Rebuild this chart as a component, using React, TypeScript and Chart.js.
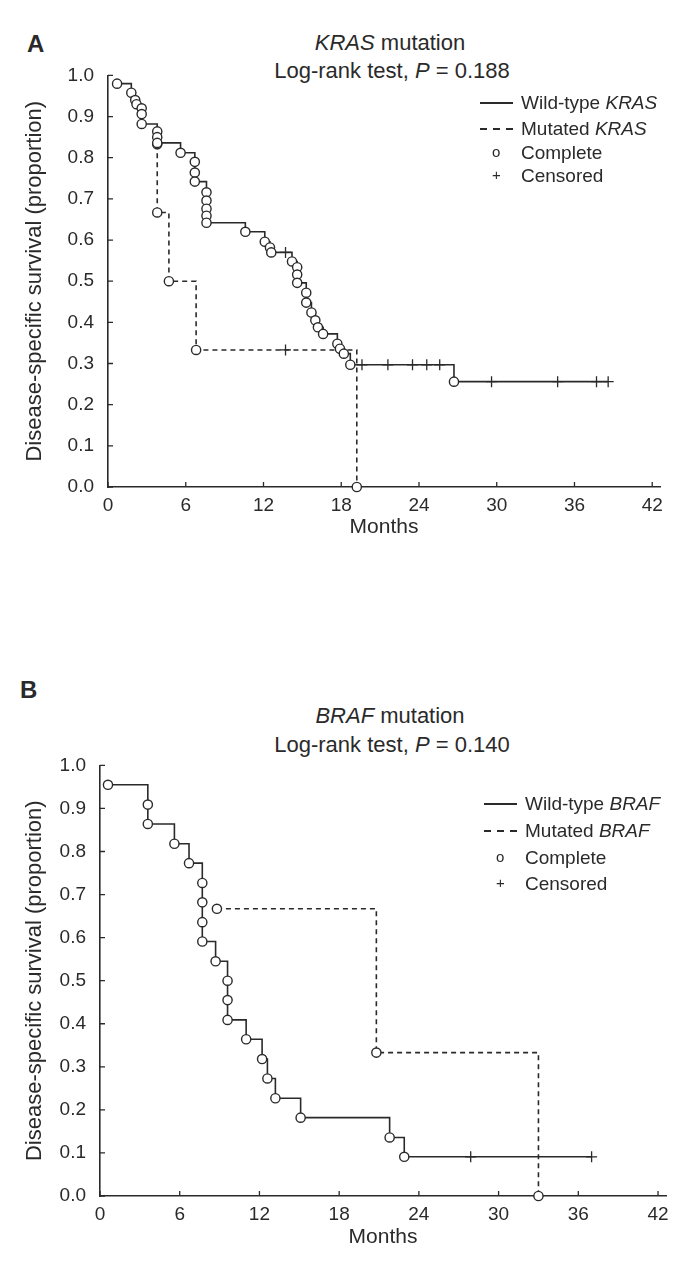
import React, { useEffect, useRef } from "react";
import { Chart, registerables } from "chart.js";

Chart.register(...registerables);

const FONT = "'Liberation Sans', Arial, Helvetica, sans-serif";
const INK = "#2a2a2a";

// ---------- axes ----------
const xTicks = [0, 6, 12, 18, 24, 30, 36, 42];
const yTicks = [0, 0.1, 0.2, 0.3, 0.4, 0.5, 0.6, 0.7, 0.8, 0.9, 1.0];
const xTitle = "Months";
const yTitle = "Disease-specific survival (proportion)";

// ---------- Panel A: KRAS ----------
const krasWildEventMonths = [
  0.7, 1.8, 2.1, 2.2, 2.6, 2.6, 2.6, 3.8, 3.8, 3.8, 5.6, 6.7, 6.7, 6.7,
  7.6, 7.6, 7.6, 7.6, 7.6, 10.6, 12.1, 12.5, 12.6, 14.2, 14.6, 14.6, 14.6,
  15.3, 15.3, 15.7, 16.0, 16.2, 16.6, 17.7, 17.9, 18.2, 18.7, 26.7,
];
const krasWildEventSurv = [
  0.98, 0.958, 0.94, 0.93, 0.92, 0.906, 0.882, 0.864, 0.85, 0.836, 0.812,
  0.79, 0.764, 0.742, 0.716, 0.696, 0.676, 0.659, 0.642, 0.62, 0.596, 0.582,
  0.57, 0.548, 0.534, 0.516, 0.496, 0.472, 0.448, 0.424, 0.405, 0.388, 0.372,
  0.348, 0.336, 0.324, 0.297, 0.256,
];
const krasWildCensorMonths = [13.7, 19.6, 21.6, 23.5, 24.6, 25.6, 29.6, 34.7, 37.7, 38.6];
const krasWildCensorSurv = [0.57, 0.297, 0.297, 0.297, 0.297, 0.297, 0.256, 0.256, 0.256, 0.256];
const krasMutEventMonths = [3.8, 3.8, 4.7, 6.8, 19.2];
const krasMutEventSurv = [0.833, 0.667, 0.5, 0.333, 0];
const krasMutCensorMonths = [13.7];
const krasMutCensorSurv = [0.333];

// ---------- Panel B: BRAF ----------
const brafWildEventMonths = [
  0.6, 3.6, 3.6, 5.6, 6.7, 7.7, 7.7, 7.7, 7.7, 8.7, 9.6, 9.6, 9.6, 11.0,
  12.2, 12.6, 13.2, 15.1, 21.8, 22.9,
];
const brafWildEventSurv = [
  0.955, 0.909, 0.864, 0.818, 0.773, 0.727, 0.682, 0.636, 0.591, 0.545, 0.5,
  0.455, 0.409, 0.364, 0.318, 0.273, 0.227, 0.182, 0.136, 0.091,
];
const brafWildCensorMonths = [27.9, 37.0];
const brafWildCensorSurv = [0.091, 0.091];
const brafMutEventMonths = [8.8, 20.8, 33.0];
const brafMutEventSurv = [0.667, 0.333, 0];
const brafMutCensorMonths: number[] = [];
const brafMutCensorSurv: number[] = [];

type Pt = { x: number; y: number };
const pts = (xs: number[], ys: number[]): Pt[] => xs.map((x, i) => ({ x, y: ys[i] }));
const curve = (ex: number[], ey: number[], cx: number[], cy: number[]): Pt[] =>
  [...pts(ex, ey), ...pts(cx, cy)].sort((a, b) => a.x - b.x);

const innerTicks = {
  id: "innerTicks",
  beforeDatasetsDraw(chart: any) {
    const { ctx, chartArea, scales } = chart;
    ctx.save();
    ctx.strokeStyle = INK;
    ctx.lineWidth = 1.3;
    ctx.beginPath();
    xTicks.forEach((v) => {
      const x = scales.x.getPixelForValue(v);
      ctx.moveTo(x, chartArea.bottom);
      ctx.lineTo(x, chartArea.bottom - 5);
    });
    yTicks.forEach((v) => {
      const y = scales.y.getPixelForValue(v);
      ctx.moveTo(chartArea.left, y);
      ctx.lineTo(chartArea.left + 5, y);
    });
    ctx.stroke();
    ctx.restore();
  },
};

type PanelProps = {
  top: number;
  height: number;
  padTop: number;
  padRight: number;
  yWidth: number;
  xHeight: number;
  wild: Pt[];
  mut: Pt[];
  wildEvents: Pt[];
  mutEvents: Pt[];
  wildCensor: Pt[];
  mutCensor: Pt[];
};

function KMChart(p: PanelProps) {
  const ref = useRef<HTMLCanvasElement | null>(null);
  useEffect(() => {
    if (!ref.current) return;
    const circle = (data: Pt[]) => ({
      data,
      showLine: false,
      pointStyle: "circle",
      pointRadius: 4.6,
      pointBackgroundColor: "#ffffff",
      pointBorderColor: INK,
      pointBorderWidth: 1.4,
      clip: false,
    });
    const cross = (data: Pt[]) => ({
      data,
      showLine: false,
      pointStyle: "cross",
      pointRadius: 5.5,
      pointBorderColor: INK,
      pointBorderWidth: 1.3,
      clip: false,
    });
    const line = (data: Pt[], dash: number[]) => ({
      data,
      stepped: "before",
      borderColor: INK,
      borderWidth: 1.6,
      borderDash: dash,
      pointRadius: 0,
      fill: false,
      clip: false,
    });
    const chart = new Chart(ref.current, {
      type: "line",
      data: {
        datasets: [
          circle(p.wildEvents),
          circle(p.mutEvents),
          cross(p.wildCensor),
          cross(p.mutCensor),
          line(p.wild, []),
          line(p.mut, [5, 4]),
        ] as any,
      },
      options: {
        animation: false,
        responsive: false,
        devicePixelRatio: 1,
        layout: { padding: { top: p.padTop, right: p.padRight, left: 0, bottom: 0 } },
        plugins: { legend: { display: false }, tooltip: { enabled: false } },
        scales: {
          x: {
            type: "linear",
            min: 0,
            max: 42.6,
            afterBuildTicks: (s: any) => {
              s.ticks = xTicks.map((v) => ({ value: v }));
            },
            afterFit: (s: any) => {
              s.height = p.xHeight;
            },
            grid: { display: false, drawTicks: false },
            border: { display: true, color: INK, width: 1.6 },
            ticks: {
              autoSkip: false,
              maxRotation: 0,
              padding: 7,
              color: INK,
              font: { family: FONT, size: 19 },
              callback: (v: any) => String(v),
            },
            title: {
              display: true,
              text: xTitle,
              color: INK,
              font: { family: FONT, size: 21 },
              padding: { top: 0, bottom: 10 },
            },
          },
          y: {
            type: "linear",
            min: 0,
            max: 1,
            afterBuildTicks: (s: any) => {
              s.ticks = yTicks.map((v) => ({ value: v }));
            },
            afterFit: (s: any) => {
              s.width = p.yWidth;
            },
            grid: { display: false, drawTicks: false },
            border: { display: true, color: INK, width: 1.6 },
            ticks: {
              autoSkip: false,
              padding: 14,
              color: INK,
              font: { family: FONT, size: 19 },
              callback: (v: any) => Number(v).toFixed(1),
            },
            title: {
              display: true,
              text: yTitle,
              color: INK,
              font: { family: FONT, size: 22 },
              padding: { top: 22, bottom: 0 },
            },
          },
        },
      } as any,
      plugins: [innerTicks],
    });
    return () => chart.destroy();
  }, []);
  return (
    <canvas
      ref={ref}
      width={678}
      height={p.height}
      style={{ position: "absolute", left: 0, top: p.top, width: 678, height: p.height }}
    />
  );
}

const abs = (left: number, top: number, extra: any = {}) => ({
  position: "absolute" as const,
  left,
  top,
  whiteSpace: "nowrap" as const,
  color: INK,
  ...extra,
});

function Legend({ left, gene, rows }: { left: number; gene: string; rows: number[] }) {
  const textLeft = left + 41;
  const rowStyle = (cy: number) => abs(textLeft, cy - 12, { fontSize: 19, lineHeight: "24px", height: 24 });
  return (
    <>
      <div style={abs(left, rows[0] - 1, { width: 33, height: 2, background: INK })} />
      <div style={rowStyle(rows[0])}>
        Wild-type <i>{gene}</i>
      </div>
      <div
        style={abs(left, rows[1] - 1, {
          width: 33,
          height: 2,
          background: `repeating-linear-gradient(90deg, ${INK} 0 7px, transparent 7px 13px)`,
        })}
      />
      <div style={rowStyle(rows[1])}>
        Mutated <i>{gene}</i>
      </div>
      <div style={abs(left + 12, rows[2] - 11, { fontSize: 15, lineHeight: "20px" })}>o</div>
      <div style={rowStyle(rows[2])}>Complete</div>
      <div style={abs(left + 12, rows[3] - 11, { fontSize: 15, lineHeight: "20px" })}>+</div>
      <div style={rowStyle(rows[3])}>Censored</div>
    </>
  );
}

function Title({ cx, cy, children, size = 22 }: any) {
  return (
    <div
      style={abs(cx, cy - 13, {
        fontSize: size,
        lineHeight: "26px",
        height: 26,
        transform: "translateX(-50%)",
      })}
    >
      {children}
    </div>
  );
}

export default function App() {
  return (
    <div
      style={{
        position: "absolute",
        left: 0,
        top: 0,
        width: 678,
        height: 1261,
        background: "#ffffff",
        fontFamily: FONT,
        overflow: "hidden",
      }}
    >
      {/* Panel A */}
      <div style={abs(27, 30, { fontSize: 24, fontWeight: "bold", lineHeight: "28px" })}>A</div>
      <Title cx={390} cy={43}>
        <i>KRAS</i> mutation
      </Title>
      <Title cx={392} cy={71}>
        Log-rank test, <i>P</i> = 0.188
      </Title>
      <KMChart
        top={50}
        height={500}
        padTop={20}
        padRight={18}
        yWidth={108}
        xHeight={63}
        wild={curve(krasWildEventMonths, krasWildEventSurv, krasWildCensorMonths, krasWildCensorSurv)}
        mut={curve(krasMutEventMonths, krasMutEventSurv, krasMutCensorMonths, krasMutCensorSurv)}
        wildEvents={pts(krasWildEventMonths, krasWildEventSurv)}
        mutEvents={pts(krasMutEventMonths, krasMutEventSurv)}
        wildCensor={pts(krasWildCensorMonths, krasWildCensorSurv)}
        mutCensor={pts(krasMutCensorMonths, krasMutCensorSurv)}
      />
      <Legend left={480} gene="KRAS" rows={[103, 129, 153, 176]} />

      {/* Panel B */}
      <div style={abs(20, 676, { fontSize: 24, fontWeight: "bold", lineHeight: "28px" })}>B</div>
      <Title cx={390} cy={716}>
        <i>BRAF</i> mutation
      </Title>
      <Title cx={392} cy={745}>
        Log-rank test, <i>P</i> = 0.140
      </Title>
      <KMChart
        top={740}
        height={520}
        padTop={22}
        padRight={12}
        yWidth={100}
        xHeight={64}
        wild={curve(brafWildEventMonths, brafWildEventSurv, brafWildCensorMonths, brafWildCensorSurv)}
        mut={curve(brafMutEventMonths, brafMutEventSurv, brafMutCensorMonths, brafMutCensorSurv)}
        wildEvents={pts(brafWildEventMonths, brafWildEventSurv)}
        mutEvents={pts(brafMutEventMonths, brafMutEventSurv)}
        wildCensor={pts(brafWildCensorMonths, brafWildCensorSurv)}
        mutCensor={pts(brafMutCensorMonths, brafMutCensorSurv)}
      />
      <Legend left={484} gene="BRAF" rows={[804, 831, 858, 884]} />
    </div>
  );
}
